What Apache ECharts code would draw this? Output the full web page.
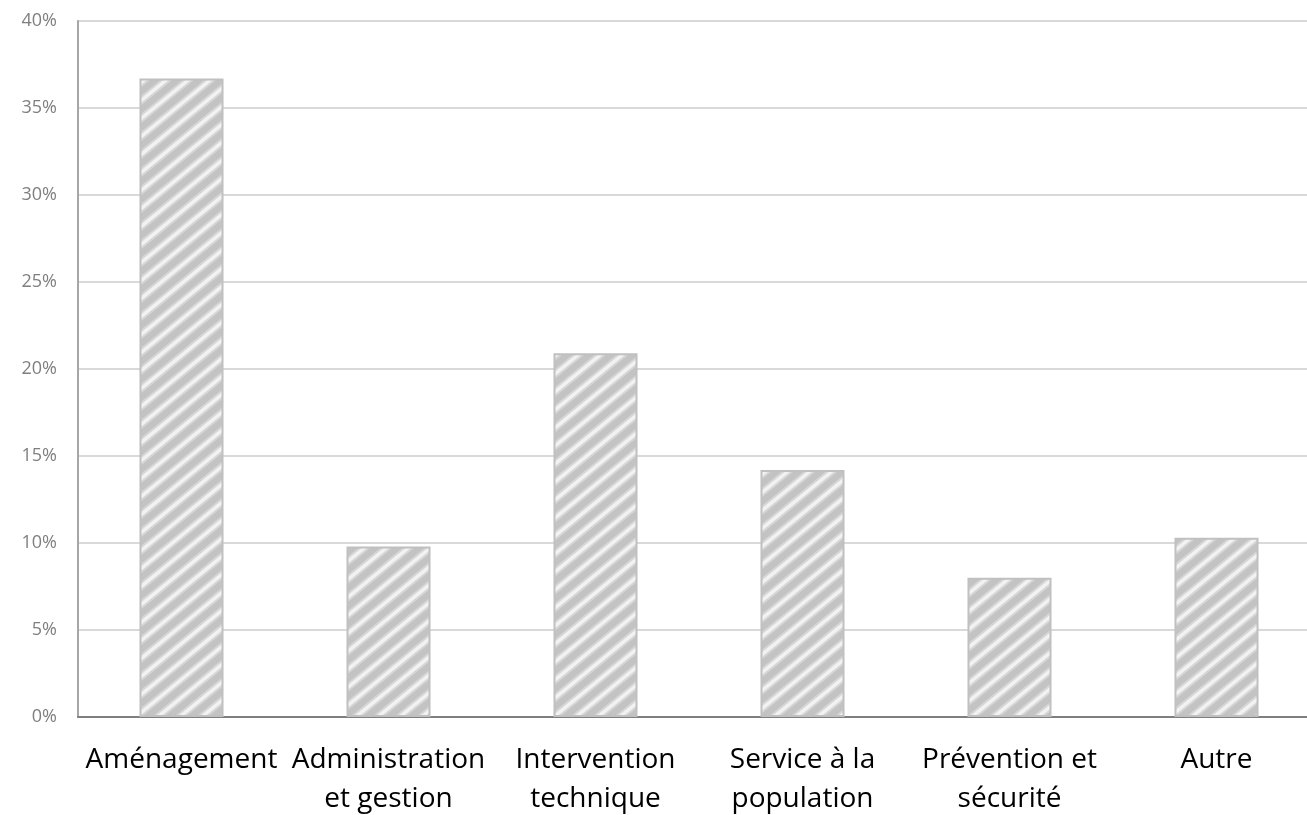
<!DOCTYPE html>
<html><head><meta charset="utf-8">
<script src="https://cdn.jsdelivr.net/npm/echarts@6/dist/echarts.min.js"></script>
<style>html,body{margin:0;padding:0;background:#fff;overflow:hidden}#c{width:1307px;height:815px}</style>
</head><body><div id="c"></div>
<script>
const categories = ['Aménagement', 'Administration\net gestion', 'Intervention\ntechnique', 'Service à la\npopulation', 'Prévention et\nsécurité', 'Autre'];
const values = [36.7, 9.8, 20.9, 14.2, 8.0, 10.3];
const yTicks = [0, 5, 10, 15, 20, 25, 30, 35, 40];

function makePattern() {
  const w = 22, h = 18;
  const c = document.createElement('canvas');
  c.width = w; c.height = h;
  const g = c.getContext('2d');
  g.fillStyle = '#c3c3c3';
  g.fillRect(0, 0, w, h);
  const draw = (color, lw) => {
    g.strokeStyle = color;
    g.lineWidth = lw;
    for (let k = 0; k <= 2; k++) {
      g.beginPath(); g.moveTo(k * w + 2, -h / w * 2 * 0.818); g.lineTo(k * w - w, h); g.stroke();
      g.beginPath(); g.moveTo(k * w, 0); g.lineTo(k * w - w, h); g.stroke();
    }
  };
  g.strokeStyle = '#d6d6d6'; g.lineWidth = 7.5;
  for (let k = 0; k <= 2; k++) { g.beginPath(); g.moveTo(k * w + w / 2, -h / 2); g.lineTo(k * w - w - w / 2, h + h / 2); g.stroke(); }
  g.strokeStyle = '#f2f2f2'; g.lineWidth = 3.5;
  for (let k = 0; k <= 2; k++) { g.beginPath(); g.moveTo(k * w + w / 2, -h / 2); g.lineTo(k * w - w - w / 2, h + h / 2); g.stroke(); }
  return c;
}

const chart = echarts.init(document.getElementById('c'), null, {renderer: 'canvas'});
chart.setOption({
  animation: false,
  grid: {left: 78, right: -13, top: 21, bottom: 98, containLabel: false, outerBoundsMode: 'none'},
  xAxis: {
    type: 'category',
    data: categories,
    axisLine: {lineStyle: {color: '#7f7f7f', width: 2}},
    axisTick: {show: false},
    axisLabel: {color: '#000', fontSize: 28, fontFamily: 'Open Sans', lineHeight: 39, margin: 24, interval: 0}
  },
  yAxis: {
    type: 'value',
    min: yTicks[0], max: yTicks[yTicks.length - 1], interval: 5,
    axisLine: {show: true, lineStyle: {color: '#a6a6a6', width: 2}},
    axisTick: {show: false},
    splitLine: {lineStyle: {color: '#d9d9d9', width: 2}},
    axisLabel: {color: '#7f7f7f', fontSize: 18, fontFamily: 'Open Sans', margin: 21, formatter: v => v + '%'}
  },
  series: [{
    type: 'bar',
    data: values,
    barWidth: '40.6%',
    itemStyle: {
      color: {image: makePattern(), repeat: 'repeat'},
      borderColor: '#c0c0c0',
      borderWidth: 2
    }
  }]
});
</script></body></html>
